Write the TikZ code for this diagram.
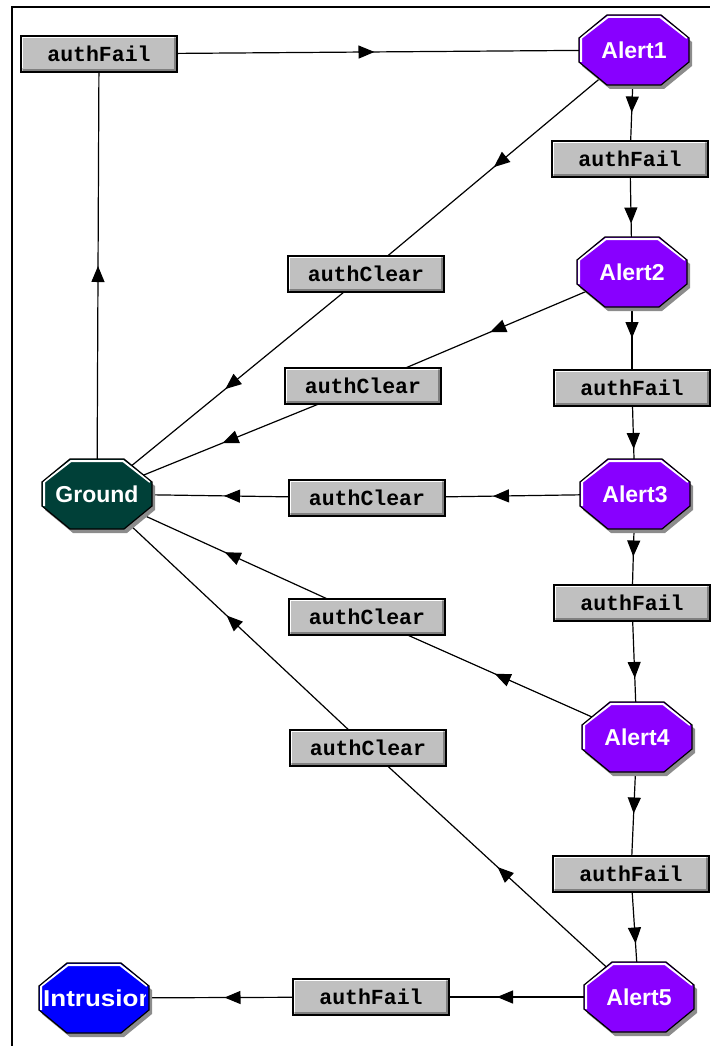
\documentclass[tikz,border=0pt]{standalone}
\usepackage{fontspec}
\setmainfont{Liberation Sans}
\newfontfamily\boxfont{Liberation Mono}
\usetikzlibrary{arrows.meta,decorations.markings,backgrounds}

\definecolor{alertviolet}{RGB}{136,0,255}
\definecolor{groundgreen}{RGB}{0,64,56}
\definecolor{intrblue}{RGB}{0,0,255}
\definecolor{boxgray}{RGB}{192,192,192}
\definecolor{bevelgray}{RGB}{128,128,128}
\definecolor{shadowgray}{RGB}{140,140,140}

% outline of a state octagon, centred on the origin (y pointing up)
\newcommand{\octpath}{(-27,35) -- (27,35) -- (55,12) -- (55,-12) -- (27,-35)
  -- (-27,-35) -- (-55,-12) -- (-55,12) -- cycle}

% shadow, fill, highlight and outline of a state octagon at #1
\newcommand{\octbody}[2]{%
  \begin{scope}[shift={(#1)}, x=1pt, y=1pt]
    \fill[shadowgray, shift={(3,-4)}] \octpath;
    \fill[#2] \octpath;
    \draw[white, line width=2pt] (-53,-12) -- (-53,12) -- (-26,33) -- (26,33) -- (53,12);
    \draw[black, line width=1.2pt, line join=miter] \octpath;
  \end{scope}}

% a state: octagon body plus its named label node
\newcommand{\statenode}[4]{%
  \octbody{#2}{#3}
  \node[statetext] (#1) at (#2) {#4};}

% a transition label: bevelled grey button plus its named node
\newcommand{\labelnode}[3]{%
  \begin{scope}[shift={(#2)}, x=1pt, y=1pt]
    \fill[boxgray] (-78,-18) rectangle (78,18);
    \draw[bevelgray, line width=2.5pt] (-76.2,-16.2) -- (76.2,-16.2) -- (76.2,16.2);
    \draw[white, line width=1.5pt] (-76.4,-14.5) -- (-76.4,16.4) -- (74.5,16.4);
  \end{scope}
  \node[lbl] (#1) at (#2) {#3};}

\tikzset{
  statetext/.style={inner sep=0pt, text=white,
    font=\bfseries\fontsize{23}{23}\selectfont},
  lbl/.style={rectangle, minimum width=156pt, minimum height=36pt, inner sep=0pt,
    draw=black, line width=1.2pt,
    font=\boxfont\bfseries\fontsize{21.5}{21.5}\selectfont},
  link/.style={line width=1.2pt, postaction={decorate, decoration={markings,
    mark=at position 0.5 with {\arrow[xshift=8pt]{Triangle[length=16pt,width=13pt]}}}}}
}

\begin{document}
\begin{tikzpicture}[x=1pt,y=-1pt]
\useasboundingbox (0,0) rectangle (710,1046);
\draw[line width=2pt] (12,1046) -- (12,7) -- (710,7);

% states
\statenode{A1}{634,50}{alertviolet}{Alert1}
\statenode{A2}{632,272}{alertviolet}{Alert2}
\statenode{A3}{635,494}{alertviolet}{Alert3}
\statenode{A4}{637,737}{alertviolet}{Alert4}
\statenode{A5}{639,997}{alertviolet}{Alert5}
\statenode{G}{97,494}{groundgreen}{Ground}
\octbody{94,998}{intrblue}
\begin{scope}
  % the label is wider than the octagon and is cut at its inner edge
  \clip (41,978) rectangle (145,1018);
  \node[statetext, xscale=1.13, anchor=west] (I) at (43,998) {Intrusion};
\end{scope}

% transition labels
\labelnode{fT}{99,54}{authFail}
\labelnode{f1}{630,159}{authFail}
\labelnode{f2}{632,388}{authFail}
\labelnode{f3}{632,603}{authFail}
\labelnode{f4}{631,874}{authFail}
\labelnode{fI}{371,997}{authFail}
\labelnode{c1}{366,274}{authClear}
\labelnode{c2}{363,386}{authClear}
\labelnode{c3}{367,498}{authClear}
\labelnode{c4}{367,617}{authClear}
\labelnode{c5}{368,748}{authClear}

% transitions
\begin{scope}[on background layer]
\draw[link] (G.center) -- (fT.center);
\draw[link] (fT.center) -- (A1.center);
\draw[link] (A1.center) -- (f1.center);
\draw[link] (f1.center) -- (A2.center);
\draw[link] (A2.center) -- (f2.center);
\draw[link] (f2.center) -- (A3.center);
\draw[link] (A3.center) -- (f3.center);
\draw[link] (f3.center) -- (A4.center);
\draw[link] (A4.center) -- (f4.center);
\draw[link] (f4.center) -- (A5.center);
\draw[link] (A5.center) -- (fI.center);
\draw[link] (fI.center) -- (I.west -| 94,998);
\draw[link] (A1.center) -- (c1.center);
\draw[link] (c1.center) -- (G.center);
\draw[link] (A2.center) -- (c2.center);
\draw[link] (c2.center) -- (G.center);
\draw[link] (A3.center) -- (c3.center);
\draw[link] (c3.center) -- (G.center);
\draw[link] (A4.center) -- (c4.center);
\draw[link] (c4.center) -- (G.center);
\draw[link] (A5.center) -- (c5.center);
\draw[link] (c5.center) -- (G.center);
\end{scope}
\end{tikzpicture}
\end{document}
